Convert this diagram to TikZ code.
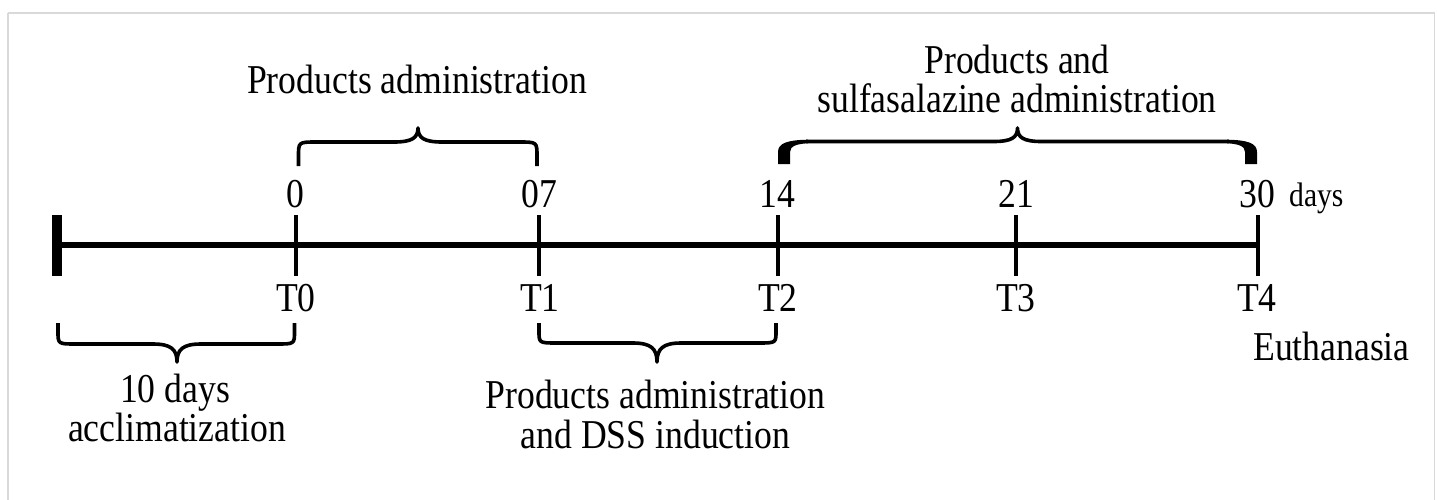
\documentclass[tikz,border=0pt]{standalone}
\usepackage{fontspec}
\setmainfont{Liberation Serif}[FakeStretch=0.87]
\newcommand\tlbrace[6]{% x1, x2, xm, yend, yhoriz, ytip
  \draw[brace] (#1,#4) -- (#1,{#4+0.4*(#5-#4)})
    .. controls (#1,#5) and (#1,#5) .. ({#1+18},#5)
    -- ({#3-24},#5)
    .. controls ({#3-6},#5) and (#3,{#5+0.3*(#6-#5)}) .. (#3,#6)
    .. controls (#3,{#5+0.3*(#6-#5)}) and ({#3+6},#5) .. ({#3+24},#5)
    -- ({#2-18},#5)
    .. controls (#2,#5) and (#2,#5) .. (#2,{#4+0.4*(#5-#4)})
    -- (#2,#4);}
\begin{document}
\begin{tikzpicture}[x=1pt,y=-1pt,
  lbl/.style={font=\fontsize{41}{48}\selectfont, inner sep=0pt, anchor=base},
  small/.style={font=\fontsize{34}{40}\selectfont, inner sep=0pt, anchor=base west},
  brace/.style={line width=3.6pt, line cap=butt, line join=round},
  tick/.style={line width=4pt},
  axis/.style={line width=5.5pt},
  frame/.style={draw=black!15, line width=1.5pt}]
\useasboundingbox (0,0) rectangle (1437,499);
\draw[frame] (8,13) -- (1434.5,13);
\draw[frame] (8,13) -- (8,510);
\draw[frame] (1434.5,13) -- (1434.5,510);

% timeline
\coordinate (start) at (57,245);
\coordinate (t0) at (295.5,245);
\coordinate (t1) at (539,245);
\coordinate (t2) at (778,245);
\coordinate (t3) at (1015.5,245);
\coordinate (t4) at (1257.5,245);
\draw[axis] (start) -- (t4);
\draw[line width=10pt] (57,215) -- (57,276);
\foreach \p in {t0,t1,t2,t3,t4}{
  \draw[tick] ([yshift=30pt]\p) -- ([yshift=-31pt]\p);
}

% numbers above
\node[lbl] (n0) at (295.5,207) {0};
\node[lbl] (n7) at (539,207) {07};
\node[lbl] (n14) at (777,207) {14};
\node[lbl] (n21) at (1016,207) {21};
\node[lbl] (n30) at (1257,207) {30};
\node[small] (days) at (1289,206) {days};

% labels below
\node[lbl] (T0) at (296,311) {T0};
\node[lbl] (T1) at (540,311) {T1};
\node[lbl] (T2) at (778,311) {T2};
\node[lbl] (T3) at (1016,311) {T3};
\node[lbl] (T4) at (1257,311) {T4};
\node[lbl, anchor=base west] (euth) at (1253,360) {Euthanasia};

% braces
\tlbrace{298.5}{537}{418}{166}{142}{128}
% bold-ended brace 14-30
\fill (778,164) -- (778,152) .. controls (778,143) and (788,140) .. (808,139.7)
  -- (808,143.3) .. controls (797,143.8) and (790,146) .. (790,152) -- (790,164) -- cycle;
\fill (1257,164) -- (1257,152) .. controls (1257,143) and (1247,140) .. (1227,139.7)
  -- (1227,143.3) .. controls (1238,143.8) and (1245,146) .. (1245,152) -- (1245,164) -- cycle;
\draw[brace] (806,141.5) -- (993.5,141.5)
  .. controls (1011.5,141.5) and (1017.5,137.5) .. (1017.5,128)
  .. controls (1017.5,137.5) and (1023.5,141.5) .. (1041.5,141.5) -- (1229,141.5);
\tlbrace{58}{294.5}{177}{323}{344}{362}
\tlbrace{539}{776}{657}{323}{343}{362}

% brace texts
\node[lbl] (pa1) at (417,93) {Products administration};
\node[lbl] (ps1) at (1017,73) {Products and};
\node[lbl] (ps2) at (1017,112) {sulfasalazine administration};
\node[lbl] (ac1) at (175,402) {10 days};
\node[lbl] (ac2) at (177,441) {acclimatization};
\node[lbl] (pd1) at (655.5,408) {Products administration};
\node[lbl] (pd2) at (655.5,448) {and DSS induction};
\end{tikzpicture}
\end{document}
